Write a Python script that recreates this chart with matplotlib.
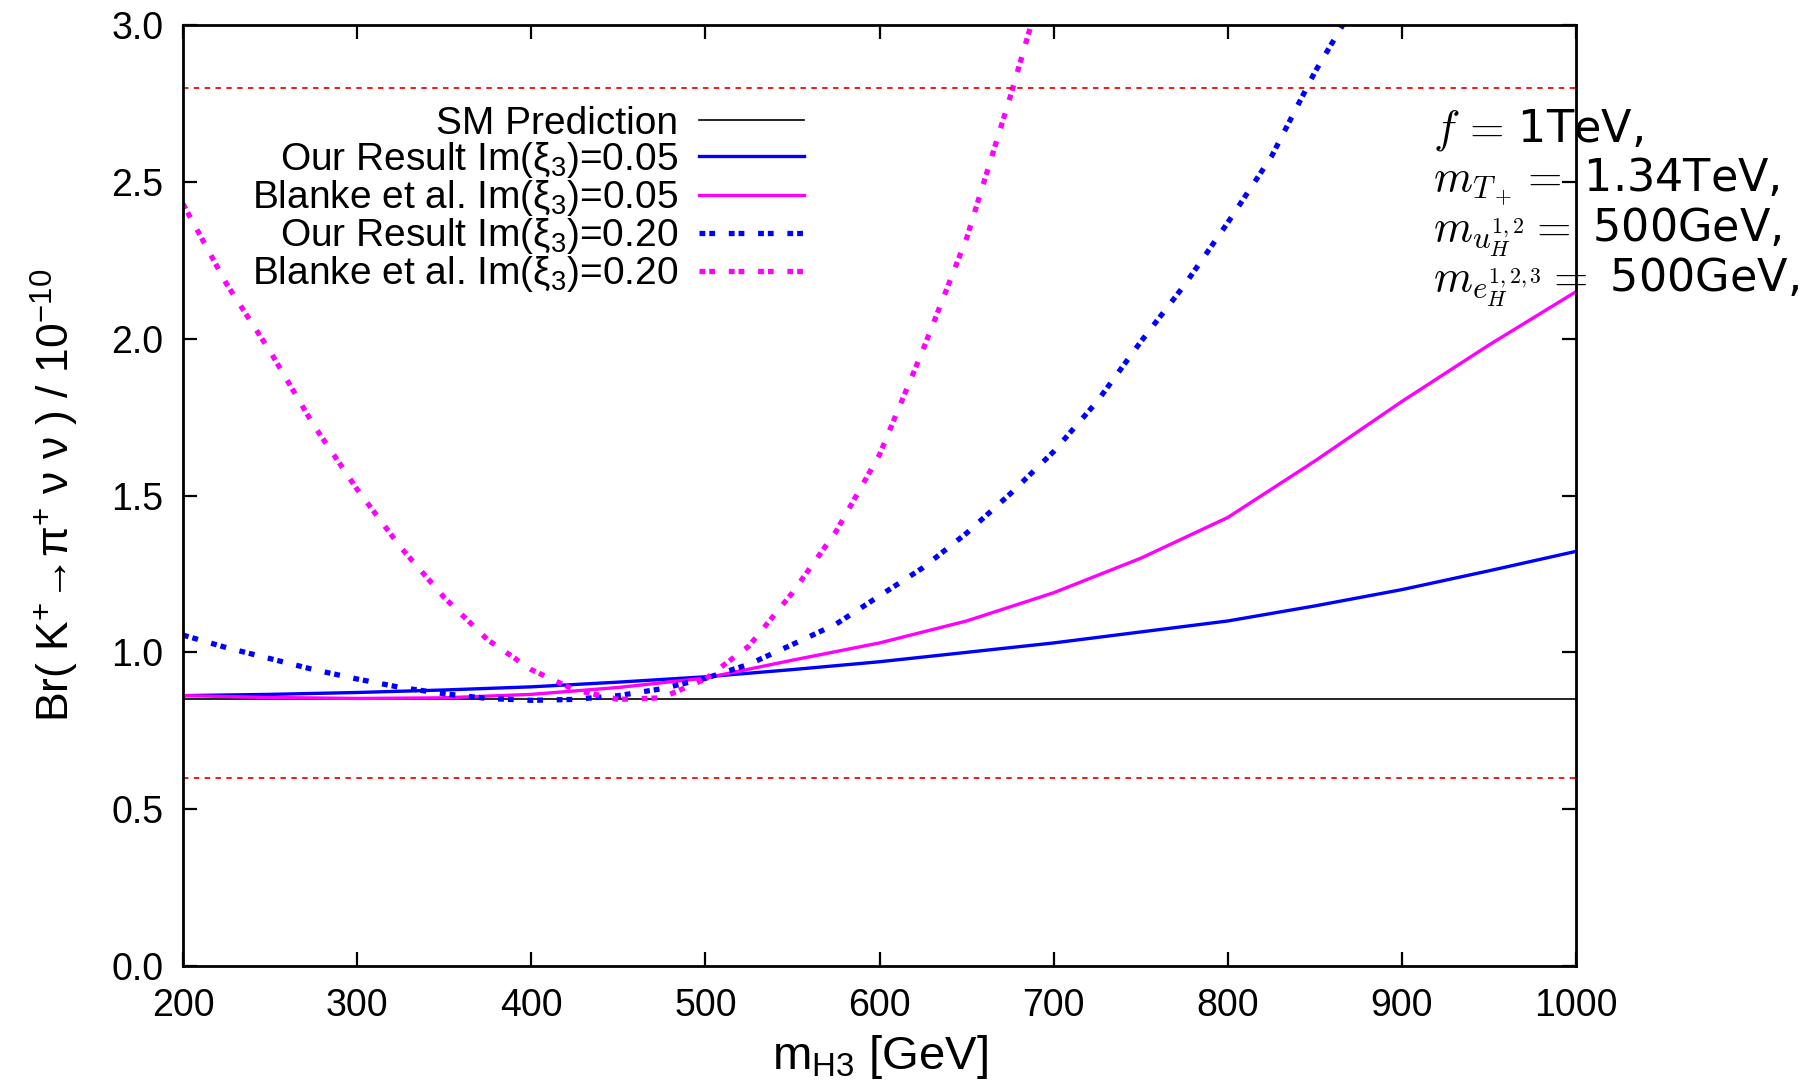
import matplotlib
matplotlib.use("Agg")
import matplotlib.pyplot as plt

# 1. data (m_H3 in GeV, Br in units of 1e-10)
mass_solid = [200, 250, 300, 350, 400, 450, 500, 550, 600, 650, 700, 750, 800, 850, 900, 950, 1000]
sm_value = 0.85
our_005 = [0.862, 0.866, 0.872, 0.880, 0.890, 0.905, 0.922, 0.945, 0.970, 1.000, 1.030, 1.065,
           1.100, 1.148, 1.200, 1.260, 1.322]
blanke_005 = [0.862, 0.856, 0.853, 0.855, 0.866, 0.888, 0.918, 0.975, 1.030, 1.100, 1.190, 1.300,
              1.430, 1.610, 1.800, 1.980, 2.150]

mass_our_020 = [200, 225, 250, 275, 300, 325, 350, 375, 400, 425, 450, 475, 500, 525, 550, 575,
                600, 625, 650, 675, 700, 725, 750, 775, 800, 825, 850, 866]
our_020 = [1.055, 1.015, 0.980, 0.945, 0.915, 0.888, 0.868, 0.853, 0.847, 0.850, 0.862, 0.884,
           0.917, 0.962, 1.025, 1.090, 1.180, 1.270, 1.380, 1.505, 1.640, 1.800, 1.990, 2.170,
           2.370, 2.580, 2.850, 3.000]

mass_blanke_020 = [200, 225, 250, 275, 300, 325, 350, 375, 400, 425, 450, 475, 500, 525, 550, 575,
                   600, 625, 650, 675, 687]
blanke_020 = [2.430, 2.175, 1.960, 1.725, 1.520, 1.335, 1.175, 1.040, 0.945, 0.880, 0.850, 0.855,
              0.915, 1.020, 1.190, 1.385, 1.630, 1.965, 2.320, 2.770, 3.000]

exp_bounds = [0.6, 2.8]

x_ticks = [200, 300, 400, 500, 600, 700, 800, 900, 1000]
y_ticks = [0.0, 0.5, 1.0, 1.5, 2.0, 2.5, 3.0]

labels = ["SM Prediction",
          r"Our Result Im($\xi_3$)=0.05",
          r"Blanke et al. Im($\xi_3$)=0.05",
          r"Our Result Im($\xi_3$)=0.20",
          r"Blanke et al. Im($\xi_3$)=0.20"]

params = [r"$f\,=\,$1TeV,",
          r"$m_{T_+}=$ 1.34TeV,",
          r"$m_{u_H^{1,2}}=$ 500GeV,",
          r"$m_{e_H^{1,2,3}}=$ 500GeV,"]

# 2. style
plt.rcParams["font.family"] = ["Liberation Sans", "DejaVu Sans"]
plt.rcParams["mathtext.fontset"] = "custom"
plt.rcParams["mathtext.rm"] = "Liberation Sans"
plt.rcParams["mathtext.it"] = "Liberation Sans"
plt.rcParams["mathtext.sf"] = "Liberation Sans"

fig = plt.figure(figsize=(18.08, 10.91), dpi=100)
ax = fig.add_axes([0.1012, 0.1146, 0.7705, 0.8624])

dot_style = (0, (1.1, 0.75, 1.1, 2.6))

# 3. curves
ax.axhline(sm_value, color="black", lw=1.2, label=labels[0])
ax.plot(mass_solid, our_005, color="#0000ff", lw=2.4, label=labels[1])
ax.plot(mass_solid, blanke_005, color="#ff00ff", lw=2.4, label=labels[2])
ax.plot(mass_our_020, our_020, color="#0000ff", lw=3.8, linestyle=dot_style,
        dash_capstyle="butt", label=labels[3])
ax.plot(mass_blanke_020, blanke_020, color="#ff00ff", lw=3.8, linestyle=dot_style,
        dash_capstyle="butt", label=labels[4])
for b in exp_bounds:
    ax.axhline(b, color="#ff0000", lw=1.3, linestyle=(0, (3.0, 3.0)))

# 4. axes
ax.set_xlim(200, 1000)
ax.set_ylim(0, 3)
ax.set_xticks(x_ticks)
ax.set_yticks(y_ticks)
ax.set_yticklabels([f"{v:.1f}" for v in y_ticks])
ax.tick_params(direction="in", length=10, width=1.6, top=True, right=True, labelsize=27)
ax.tick_params(axis="x", pad=16)
ax.tick_params(axis="y", pad=14)
for s in ax.spines.values():
    s.set_linewidth(2.0)

ax.set_xlabel(r"m$_{\rm H3}$ [GeV]", fontsize=34, labelpad=6)
ax.set_ylabel(r"Br( K$^{+}$→π$^{+}$ ν ν ) / 10$^{-10}$", fontsize=32, labelpad=22)

leg = ax.legend(loc="upper right", bbox_to_anchor=(0.446, 0.914), markerfirst=False,
                frameon=False, fontsize=28, handlelength=2.7, handletextpad=0.55,
                labelspacing=-0.05, borderpad=0.0, borderaxespad=0.0)

for i, txt in enumerate(params):
    ax.text(918, 2.63 - i * 0.16, txt, fontsize=32, ha="left", va="baseline",
            family="DejaVu Sans", math_fontfamily="cm", clip_on=False)

fig.savefig("out.png", dpi=100)
